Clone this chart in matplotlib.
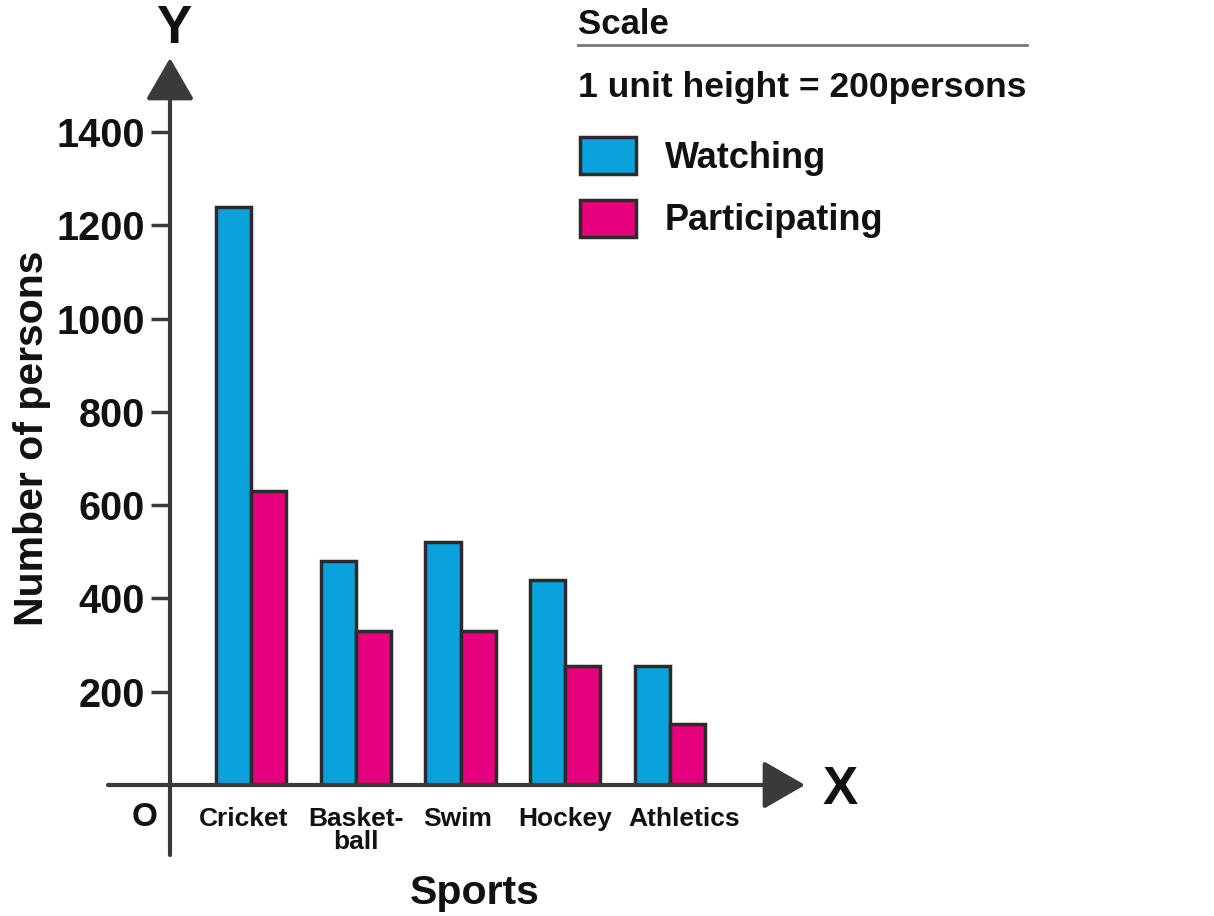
import matplotlib
matplotlib.use("Agg")
import matplotlib.pyplot as plt
import matplotlib.transforms as mtransforms
import numpy as np
from matplotlib import font_manager
from matplotlib.lines import Line2D

# ---- data ----
sports = ["Cricket", "Basket-\nball", "Swim", "Hockey", "Athletics"]
watching = [1240, 480, 520, 440, 255]
participating = [630, 330, 330, 255, 130]
yticks = [200, 400, 600, 800, 1000, 1200, 1400]
series_labels = ["Watching", "Participating"]

BLUE = "#0AA2DD"
PINK = "#E6007E"
EDGE = "#2b2b2b"
AXC = "#3a3a3a"

names = {f.name for f in font_manager.fontManager.ttflist}
MAIN = "Liberation Sans" if "Liberation Sans" in names else "DejaVu Sans"
if "Liberation Sans Narrow" in names:
    NARROW, NSIZE = "Liberation Sans Narrow", 23
else:
    NARROW, NSIZE = MAIN, 19
plt.rcParams["font.family"] = MAIN
plt.rcParams["font.weight"] = "bold"

W, H = 1214, 916
fig = plt.figure(figsize=(W / 100, H / 100), dpi=100)

# axes: left spine at px 170, bottom at px 785, top (arrow tip) at px 58, right (arrow tip) at px 805
ax = fig.add_axes([170 / W, 1 - 785 / H, (805 - 170) / W, (785 - 58) / H])
x = np.arange(len(sports))
bw = 0.335
b1 = ax.bar(x - bw / 2, watching, bw, color=BLUE, edgecolor=EDGE, linewidth=2.5, zorder=3)
b2 = ax.bar(x + bw / 2, participating, bw, color=PINK, edgecolor=EDGE, linewidth=2.5, zorder=3)

ax.set_xlim((170 - 251) / 104.75, (805 - 251) / 104.75)
ax.set_ylim(0, (785 - 58) / 93.3 * 200)
for s in ax.spines.values():
    s.set_visible(False)

ax.set_yticks(yticks)
ax.set_yticklabels([str(v) for v in yticks], fontsize=28.5, fontweight="bold", color="#111111")
ax.tick_params(axis="y", direction="out", length=14, width=2.5, color=AXC, pad=4)
ax.set_xticks(x)
ax.set_xticklabels(sports, fontsize=NSIZE, fontweight="bold", family=NARROW,
                   color="#111111", linespacing=0.95)
ax.tick_params(axis="x", length=0, pad=16)
# small horizontal nudges of the category labels, as in the reference
nudges = [-7, 0, -3, 0, 14]
for lab, dx in zip(ax.get_xticklabels(), nudges):
    lab.set_transform(lab.get_transform() + mtransforms.ScaledTranslation(dx / 100, 0, fig.dpi_scale_trans))

# axis lines with arrows
arrow_style = "-|>,head_length=1.3,head_width=0.75"
ax.annotate("", xy=(0, 1), xytext=(0, (785 - 855) / 727), xycoords="axes fraction",
            arrowprops=dict(arrowstyle=arrow_style, color=AXC, lw=3, mutation_scale=20,
                            shrinkA=0, shrinkB=0), annotation_clip=False)
ax.annotate("", xy=(1, 0), xytext=((108 - 170) / 635, 0), xycoords="axes fraction",
            arrowprops=dict(arrowstyle=arrow_style, color=AXC, lw=3, mutation_scale=20,
                            shrinkA=0, shrinkB=0), annotation_clip=False)

def ft(px, py, s, **kw):
    fig.text(px / W, 1 - py / H, s, **kw)

ft(174, 29, "Y", fontsize=38, fontweight="bold", ha="center", va="center", color="#111111")
ft(840, 790, "X", fontsize=38, fontweight="bold", ha="center", va="center", color="#111111")
ft(145, 818, "O", fontsize=24, fontweight="bold", ha="center", va="center", color="#111111")
ft(32, 438, "Number of persons", fontsize=29.5, fontweight="bold", rotation=90,
   ha="center", va="center", color="#111111")
ft(475, 893, "Sports", fontsize=29.5, fontweight="bold", ha="center", va="center", color="#111111")

# scale / legend block
ft(578, 25, "Scale", fontsize=25, fontweight="bold", ha="left", va="center", color="#111111")
fig.add_artist(Line2D([578 / W, 1027 / W], [1 - 45 / H, 1 - 45 / H], color="#777777", lw=2))
ft(578, 88, "1 unit height = 200persons", fontsize=25.5, fontweight="bold",
   ha="left", va="center", color="#111111")

leg = fig.legend([b1, b2], series_labels, loc="upper left",
                 bbox_to_anchor=(580 / W, 1 - 137 / H), frameon=False,
                 prop=dict(family=MAIN, weight="bold", size=26),
                 handlelength=1.55, handleheight=1.2, handletextpad=0.8,
                 labelspacing=0.66, borderpad=0, borderaxespad=0)
for t in leg.get_texts():
    t.set_color("#111111")

fig.savefig("out.png", dpi=100, facecolor="white")
